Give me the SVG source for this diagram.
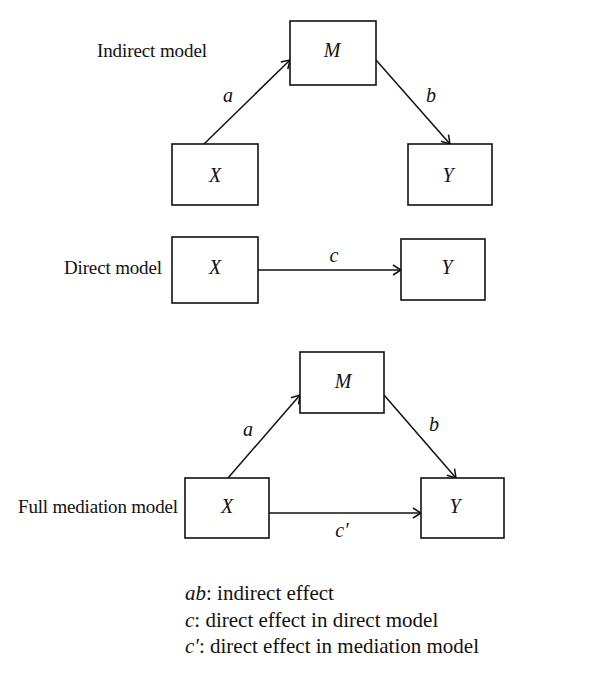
<svg xmlns="http://www.w3.org/2000/svg" width="600" height="681" viewBox="0 0 600 681">
<style>
text{font-family:"Liberation Serif","Times New Roman",serif;fill:#111;}
.lbl{font-size:19px;}
.var{font-size:20px;font-style:italic;text-anchor:middle;}
.leg{font-size:21px;font-family:"Liberation Serif",serif;}
.it{font-style:italic;}
rect{fill:#fff;stroke:#111;stroke-width:1.6;}
.edge{stroke:#111;stroke-width:1.5;fill:none;marker-end:url(#arr);}
</style>
<defs>
<marker id="arr" viewBox="0 0 12 12" refX="11" refY="6" markerWidth="12" markerHeight="12" markerUnits="userSpaceOnUse" orient="auto">
<path d="M3,1 L11,6 L3,11" fill="none" stroke="#111" stroke-width="1.5"/>
</marker>
</defs>
<g id="labels">
<text class="lbl" x="97" y="57" textLength="110">Indirect model</text>
<text class="lbl" x="64" y="274" textLength="98">Direct model</text>
<text class="lbl" x="18" y="513" textLength="160">Full mediation model</text>
</g>
<g id="connectors">
<line class="edge" x1="204" y1="144" x2="290" y2="60"/>
<line class="edge" x1="376" y1="60" x2="450" y2="144"/>
<line class="edge" x1="258" y1="270" x2="401" y2="270"/>
<line class="edge" x1="228" y1="478" x2="300" y2="395"/>
<line class="edge" x1="384" y1="395" x2="456" y2="478"/>
<line class="edge" x1="269" y1="513" x2="421" y2="513"/>
<text class="var" x="228" y="102">a</text>
<text class="var" x="431" y="102">b</text>
<text class="var" x="334" y="262">c</text>
<text class="var" x="248" y="436">a</text>
<text class="var" x="434" y="431">b</text>
<text class="var" x="342" y="537">c′</text>
</g>
<g id="ind-M"><rect x="290" y="21" width="86" height="64"/><text class="var" x="332" y="57">M</text></g>
<g id="ind-X"><rect x="172" y="144" width="86" height="61"/><text class="var" x="215" y="182">X</text></g>
<g id="ind-Y"><rect x="408" y="144" width="84" height="61"/><text class="var" x="448" y="182">Y</text></g>
<g id="dir-X"><rect x="172" y="237" width="86" height="66"/><text class="var" x="215" y="274">X</text></g>
<g id="dir-Y"><rect x="401" y="239" width="84" height="61"/><text class="var" x="447" y="274">Y</text></g>
<g id="med-M"><rect x="300" y="352" width="84" height="61"/><text class="var" x="343" y="388">M</text></g>
<g id="med-X"><rect x="185" y="478" width="84" height="60"/><text class="var" x="227" y="513">X</text></g>
<g id="med-Y"><rect x="421" y="478" width="83" height="60"/><text class="var" x="455" y="513">Y</text></g>
<g id="legend">
<text class="leg" x="185" y="600"><tspan class="it">ab</tspan>: indirect effect</text>
<text class="leg" x="185" y="627"><tspan class="it">c</tspan>: direct effect in direct model</text>
<text class="leg" x="185" y="653"><tspan class="it">c′</tspan>: direct effect in mediation model</text>
</g>
</svg>
